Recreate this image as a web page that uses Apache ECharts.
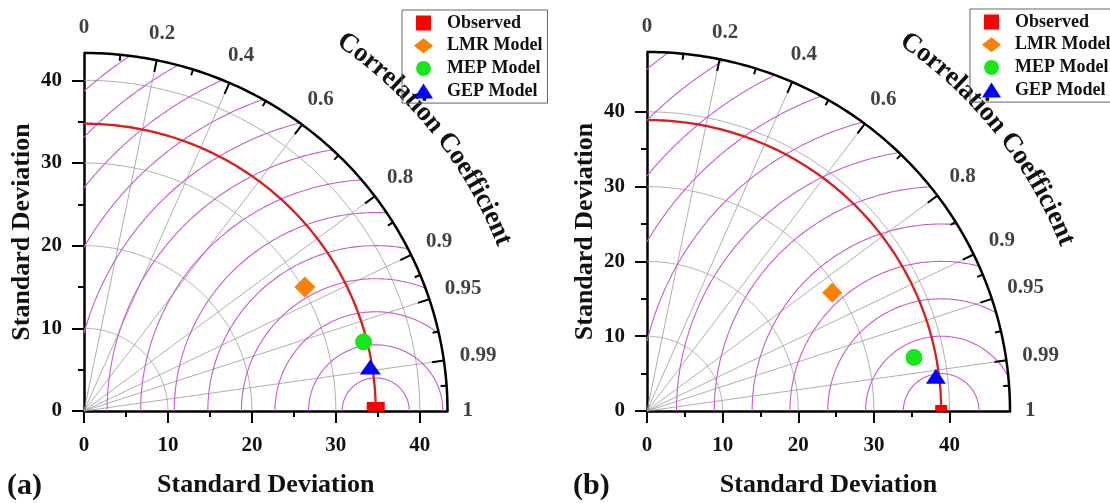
<!DOCTYPE html>
<html>
<head>
<meta charset="utf-8">
<script src="https://cdn.jsdelivr.net/npm/echarts@6/dist/echarts.min.js"></script>
<style>
  html, body { margin: 0; padding: 0; background: #fff; }
  #chart { width: 1110px; height: 503px; }
</style>
</head>
<body>
<div id="chart"></div>
<script>
// model names, same order in both panels
var modelNames = ['Observed', 'LMR Model', 'MEP Model', 'GEP Model'];

// panel (a): standard deviation and correlation of each model
var stdA = [34.75, 30.28, 34.33, 34.52];
var corrA = [1, 0.869, 0.970, 0.988];

// panel (b)
var stdB = [38.9, 29.15, 36.02, 38.48];
var corrB = [1, 0.840, 0.980, 0.9927];

// axis ticks / grid
var stdTicks = [0, 10, 20, 30, 40];
var stdMinorTicks = [5, 15, 25, 35];
var stdGrid = [10, 20, 30, 40];
var corrLabels = [0, 0.2, 0.4, 0.6, 0.8, 0.9, 0.95, 0.99, 1];
var corrMinor = [0.1, 0.3, 0.5, 0.7, 0.85, 0.925, 0.975, 0.9975];
var corrRays = [0.2, 0.4, 0.6, 0.8, 0.9, 0.95, 0.99];
var maxA = 43.3, maxB = 48;
var rmsStepA = 4, rmsStepB = 5;

var FONT = '"Liberation Serif", "Times New Roman", serif';
var markerColors = ['#ff0000', '#ff8000', '#19e619', '#0000ff'];
var markerSymbols = ['rect', 'diamond', 'circle', 'triangle'];

var panels = [
    { std: stdA, corr: corrA, max: maxA, step: rmsStepA,
      grid: { left: 84, top: 53, width: 363.5, height: 363.5 },
      sizes: [[18, 9], 21, 17, [21, 15]],
      legend: { left: 402, top: 10 }, tag: '(a)', tagX: 7 },
    { std: stdB, corr: corrB, max: maxB, step: rmsStepB,
      grid: { left: 647, top: 52, width: 363, height: 363 },
      sizes: [[12, 6], 20, 17, [20, 15]],
      legend: { left: 970, top: 9 }, tag: '(b)', tagX: 573 }
];

var measureCtx = document.createElement('canvas').getContext('2d');
function textW(t, size) {
    measureCtx.font = 'bold ' + size + 'px ' + FONT;
    return measureCtx.measureText(t).width;
}

function toXY(s, r) {
    return [s * r, s * Math.sqrt(Math.max(0, 1 - r * r))];
}

// arc centred on (cx,0): item = [cx, rho, a0, a1]
function arcRender(color, width) {
    return function (params, api) {
        var cx = api.value(0), rho = api.value(1), a0 = api.value(2), a1 = api.value(3);
        var pts = [];
        var n = 140;
        for (var i = 0; i <= n; i++) {
            var a = a0 + (a1 - a0) * i / n;
            pts.push(api.coord([cx + rho * Math.cos(a), rho * Math.sin(a)]));
        }
        return { type: 'polyline', shape: { points: pts },
                 style: { fill: null, stroke: color, lineWidth: width } };
    };
}

function rmsArcs(obs, R, step) {
    var out = [];
    var far = Math.sqrt(obs * obs + R * R);
    for (var rho = step; rho < far; rho += step) {
        var k1 = (R * R - obs * obs - rho * rho) / (2 * obs * rho);
        if (k1 <= -1) continue;
        var a0 = k1 >= 1 ? 0 : Math.acos(k1);
        var k2 = -obs / rho;
        var a1 = k2 <= -1 ? Math.PI : Math.acos(k2);
        if (a1 > a0) out.push([obs, rho, a0, a1]);
    }
    return out;
}

function stdAxes(dim, gi, max) {
    var pos = dim === 'x' ? 'bottom' : 'left';
    var main = {
        gridIndex: gi, type: 'value', min: 0, max: max, position: pos,
        splitLine: { show: false },
        axisLine: { show: true, onZero: false, lineStyle: { color: '#000', width: 2.5 } },
        axisTick: { show: true, inside: false, length: 12, customValues: stdTicks,
                    lineStyle: { color: '#000', width: 2 } },
        axisLabel: { show: true, customValues: stdTicks, margin: dim === 'x' ? 24 : 22,
                     color: '#111', fontFamily: FONT, fontWeight: 'bold', fontSize: 21 },
        name: 'Standard Deviation', nameLocation: 'middle', nameGap: dim === 'x' ? 61 : 49,
        nameTextStyle: { fontFamily: FONT, fontWeight: 'bold', fontSize: 26, color: '#111' }
    };
    var minor = {
        gridIndex: gi, type: 'value', min: 0, max: max, position: pos,
        splitLine: { show: false },
        axisLine: { show: false, onZero: false },
        axisTick: { show: true, inside: false, length: 6, customValues: stdMinorTicks,
                    lineStyle: { color: '#000', width: 2 } },
        axisLabel: { show: false }
    };
    return [main, minor];
}

var grids = [], xAxes = [], yAxes = [], series = [], legends = [];

panels.forEach(function (p, k) {
    var R = p.max;
    var obs = p.std[0];
    var ai = k * 2;
    grids.push(p.grid);
    xAxes = xAxes.concat(stdAxes('x', k, R));
    yAxes = yAxes.concat(stdAxes('y', k, R));

    var common = { xAxisIndex: ai, yAxisIndex: ai, silent: true, clip: false };

    // standard deviation circles
    series.push(Object.assign({ type: 'custom', z: 1, renderItem: arcRender('#9a9a9a', 0.8),
        data: stdGrid.map(function (r) { return [0, r, 0, Math.PI / 2]; }) }, common));

    // correlation rays
    series.push(Object.assign({ type: 'custom', z: 1,
        renderItem: function (params, api) {
            var c = api.value(0);
            var s = Math.sqrt(1 - c * c);
            var p0 = api.coord([0, 0]);
            var p1 = api.coord([R * c, R * s]);
            return { type: 'line', shape: { x1: p0[0], y1: p0[1], x2: p1[0], y2: p1[1] },
                     style: { stroke: '#9a9a9a', lineWidth: 0.8 } };
        },
        data: corrRays.map(function (c) { return [c, 0]; }) }, common));

    // RMSD circles around the observed point
    series.push(Object.assign({ type: 'custom', z: 2, renderItem: arcRender('#c65ccf', 1.1),
        data: rmsArcs(obs, R, p.step) }, common));

    // observed standard deviation arc
    series.push(Object.assign({ type: 'custom', z: 3, renderItem: arcRender('#dd1c1c', 2.3),
        data: [[0, obs, 0, Math.PI / 2]] }, common));

    // outer arc
    series.push(Object.assign({ type: 'custom', z: 4, renderItem: arcRender('#000', 2.5),
        data: [[0, R, 0, Math.PI / 2]] }, common));

    // correlation ticks, pointing inwards
    var tickData = corrLabels.filter(function (c) { return c > 0 && c < 1; })
        .map(function (c) { return [c, 12]; })
        .concat(corrMinor.map(function (c) { return [c, 6]; }));
    series.push(Object.assign({ type: 'custom', z: 4,
        renderItem: function (params, api) {
            var c = api.value(0), len = api.value(1);
            var s = Math.sqrt(1 - c * c);
            var p0 = api.coord([0, 0]);
            var p1 = api.coord([R * c, R * s]);
            var dx = p0[0] - p1[0], dy = p0[1] - p1[1];
            var d = Math.sqrt(dx * dx + dy * dy);
            return { type: 'line',
                     shape: { x1: p1[0], y1: p1[1], x2: p1[0] + dx / d * len, y2: p1[1] + dy / d * len },
                     style: { stroke: '#000', lineWidth: 2 } };
        },
        data: tickData }, common));

    // correlation labels
    series.push(Object.assign({ type: 'scatter', z: 4, symbolSize: 1,
        itemStyle: { color: 'rgba(0,0,0,0)' },
        label: { show: true, position: 'inside', formatter: '{b}', color: '#111',
                 fontFamily: FONT, fontWeight: 'bold', fontSize: 21 },
        data: corrLabels.map(function (c) {
            var s = Math.sqrt(1 - c * c);
            var txt = String(c);
            var d = 15 + textW(txt, 21) / 2 * c + 10 * s;
            return { name: txt, value: [R * c, R * s], label: { offset: [d * c, -d * s] } };
        }) }, common));

    // model markers
    modelNames.forEach(function (name, i) {
        var s = Object.assign({ type: 'scatter', name: name, z: 10,
            symbol: markerSymbols[i], symbolSize: p.sizes[i],
            itemStyle: { color: markerColors[i], opacity: 1 },
            data: [toXY(p.std[i], p.corr[i])] }, common);
        if (i === 0) s.symbolOffset = [0, -p.sizes[0][1] / 2];
        series.push(s);
    });

    legends.push({
        orient: 'vertical', left: p.legend.left, top: p.legend.top,
        itemWidth: 19, itemHeight: 15, itemGap: 4.7, padding: [4, 5, 3, 12],
        borderColor: '#666', borderWidth: 1, selectedMode: false,
        textStyle: { fontFamily: FONT, fontWeight: 'bold', fontSize: 18, color: '#111' },
        formatter: function (n) { return '  ' + n; },
        data: [
            { name: 'Observed', icon: 'path://M0,0h10v10h-10z' },
            { name: 'LMR Model', icon: 'diamond' },
            { name: 'MEP Model', icon: 'circle' },
            { name: 'GEP Model', icon: 'triangle' }
        ]
    });
});

var chart = echarts.init(document.getElementById('chart'));
chart.setOption({
    animation: false,
    backgroundColor: '#fff',
    grid: grids,
    xAxis: xAxes,
    yAxis: yAxes,
    legend: legends,
    series: series
});

// curved "Correlation Coefficient" titles and panel tags
var graphics = [];
var title = 'Correlation Coefficient';
var titleSize = 27;
panels.forEach(function (p, k) {
    var o = chart.convertToPixel({ xAxisIndex: k * 2, yAxisIndex: k * 2 }, [0, 0]);
    var rho = 452;
    var mid = 38.6 * Math.PI / 180;
    var total = textW(title, titleSize);
    var start = mid + total / 2 / rho;
    var acc = 0;
    for (var i = 0; i < title.length; i++) {
        var ch = title[i];
        var w = textW(ch, titleSize);
        var phi = start - (acc + w / 2) / rho;
        acc += w;
        if (ch === ' ') continue;
        graphics.push({
            type: 'text', x: o[0] + rho * Math.cos(phi), y: o[1] - rho * Math.sin(phi),
            rotation: phi - Math.PI / 2, silent: true,
            style: { text: ch, fill: '#111', font: 'bold ' + titleSize + 'px ' + FONT,
                     textAlign: 'center', textVerticalAlign: 'middle',
                     align: 'center', verticalAlign: 'middle' }
        });
    }
    graphics.push({
        type: 'text', left: p.tagX, top: 471, silent: true,
        style: { text: p.tag, fill: '#111', font: 'bold 30px ' + FONT }
    });
});
chart.setOption({ graphic: graphics });
</script>
</body>
</html>
